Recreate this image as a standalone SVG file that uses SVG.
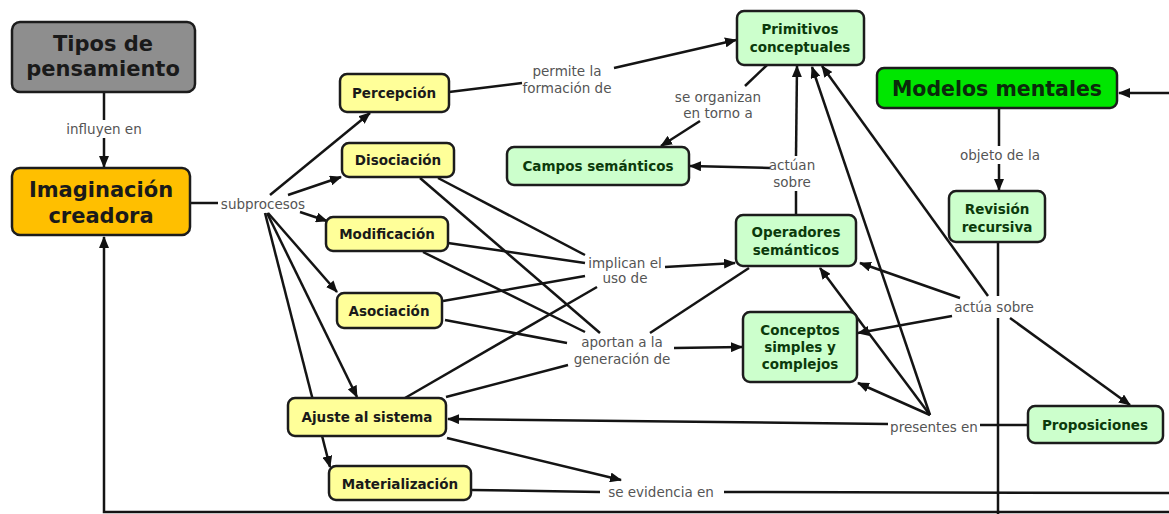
<svg xmlns="http://www.w3.org/2000/svg" width="1169" height="514" viewBox="0 0 1169 514">
<defs>
<marker id="ah" viewBox="0 0 12 10" refX="11" refY="5" markerWidth="12" markerHeight="10" markerUnits="userSpaceOnUse" orient="auto">
<path d="M0,0 L12,5 L0,10 Z" fill="#111"/>
</marker>
<style>
.n rect{stroke:#1c1c1c;stroke-width:2.5}
.y rect{fill:#ffff99}
.g rect{fill:#ccffcc}
.t{font-family:"DejaVu Sans",Verdana,sans-serif;font-weight:bold;font-size:13.5px;text-anchor:middle;dominant-baseline:central;fill:#1a1a1a}
.g .t{fill:#0b3a0b}
.big{font-size:21px}
.l{font-family:"DejaVu Sans",Verdana,sans-serif;font-size:13.5px;text-anchor:middle;dominant-baseline:central;fill:#555}
#connectors path{fill:none;stroke:#141414;stroke-width:2.5}
#connectors .a{marker-end:url(#ah)}
</style>
</defs>
<rect width="1169" height="514" fill="#fff"/>
<g id="connectors">
<path d="M104,93 L104,120"/>
<path class="a" d="M104,138 L104,167"/>
<path d="M190,203 L218,203"/>
<path class="a" d="M270,195 L370,113"/>
<path class="a" d="M288,195 L341,177"/>
<path class="a" d="M300,212 L327,221"/>
<path class="a" d="M268,213 L337,292"/>
<path class="a" d="M267,213 L357,397"/>
<path class="a" d="M265,213 L330,467"/>
<path d="M449,92 L522,83"/>
<path class="a" d="M614,68 L736,40"/>
<path d="M767,65 L745,86"/>
<path class="a" d="M700,121 L661,146"/>
<path d="M796,215 L796,191"/>
<path class="a" d="M770,168 L690,166"/>
<path class="a" d="M796,156 L797,66"/>
<path d="M999,108 L999,146"/>
<path class="a" d="M999,164 L999,190"/>
<path d="M998,242 L998,296"/>
<path d="M998,318 L998,514"/>
<path class="a" d="M960,298 L860,263"/>
<path class="a" d="M952,316 L858,333"/>
<path class="a" d="M988,296 L822,66"/>
<path class="a" d="M1010,318 L1130,405"/>
<path d="M1028,425 L980,425"/>
<path class="a" d="M888,424 L448,419"/>
<path class="a" d="M930,415 L858,383"/>
<path class="a" d="M930,415 L820,268"/>
<path class="a" d="M930,415 L812,67"/>
<path d="M438,178 L585,255"/>
<path d="M420,178 L600,333"/>
<path d="M448,243 L585,263"/>
<path d="M423,252 L585,332"/>
<path d="M443,301 L585,276"/>
<path d="M445,320 L567,343"/>
<path d="M405,398 L597,287"/>
<path d="M446,397 L568,365"/>
<path class="a" d="M665,267 L735,263"/>
<path class="a" d="M674,348 L742,347"/>
<path d="M749,268 L650,333"/>
<path d="M472,490 L600,492"/>
<path d="M724,492 L1169,493"/>
<path class="a" d="M1169,93 L1119,93"/>
<path class="a" d="M447,438 L621,480"/>
<path class="a" d="M1169,512 L104,512 L104,237"/>
</g>
<g id="lbl">
<text class="l" x="104" y="129">influyen en</text>
<text class="l" x="263" y="204">subprocesos</text>
<text class="l" x="567" y="71">permite la</text>
<text class="l" x="567" y="88">formación de</text>
<text class="l" x="718" y="97">se organizan</text>
<text class="l" x="718" y="113">en torno a</text>
<text class="l" x="792" y="165">actúan</text>
<text class="l" x="792" y="182">sobre</text>
<text class="l" x="1000" y="155">objeto de la</text>
<text class="l" x="625" y="263">implican el</text>
<text class="l" x="625" y="278">uso de</text>
<text class="l" x="622" y="342">aportan a la</text>
<text class="l" x="622" y="359">generación de</text>
<text class="l" x="994" y="307">actúa sobre</text>
<text class="l" x="934" y="427">presentes en</text>
<text class="l" x="661" y="492">se evidencia en</text>
</g>
<g id="tipos" class="n"><rect x="12" y="22" width="183" height="70" rx="8" fill="#8e8e8e"/><text class="t big" x="103" y="44">Tipos de</text><text class="t big" x="103" y="69">pensamiento</text></g>
<g id="imaginacion" class="n"><rect x="12" y="168" width="178" height="67" rx="8" fill="#ffbf00"/><text class="t big" x="101" y="190">Imaginación</text><text class="t big" x="101" y="216">creadora</text></g>
<g id="percepcion" class="n y"><rect x="340" y="74" width="109" height="38" rx="7"/><text class="t" x="394" y="93">Percepción</text></g>
<g id="disociacion" class="n y"><rect x="342" y="143" width="112" height="34" rx="7"/><text class="t" x="398" y="160">Disociación</text></g>
<g id="modificacion" class="n y"><rect x="326" y="217" width="122" height="34" rx="7"/><text class="t" x="387" y="234">Modificación</text></g>
<g id="asociacion" class="n y"><rect x="337" y="293" width="105" height="35" rx="7"/><text class="t" x="389" y="311">Asociación</text></g>
<g id="ajuste" class="n y"><rect x="288" y="398" width="158" height="38" rx="7"/><text class="t" x="367" y="417">Ajuste al sistema</text></g>
<g id="materializacion" class="n y"><rect x="329" y="466" width="142" height="34" rx="7"/><text class="t" x="400" y="484">Materialización</text></g>
<g id="primitivos" class="n g"><rect x="737" y="11" width="127" height="54" rx="7"/><text class="t" x="800" y="29">Primitivos</text><text class="t" x="800" y="47">conceptuales</text></g>
<g id="campos" class="n g"><rect x="507" y="147" width="182" height="38" rx="7"/><text class="t" x="598" y="166">Campos semánticos</text></g>
<g id="modelos" class="n"><rect x="877" y="68" width="240" height="40" rx="7" fill="#00e600"/><text class="t" x="997" y="89" style="font-size:20.5px;fill:#0b2a0b">Modelos mentales</text></g>
<g id="revision" class="n g"><rect x="949" y="191" width="96" height="51" rx="7"/><text class="t" x="997" y="209">Revisión</text><text class="t" x="997" y="227">recursiva</text></g>
<g id="operadores" class="n g"><rect x="736" y="215" width="120" height="51" rx="7"/><text class="t" x="796" y="232">Operadores</text><text class="t" x="796" y="250">semánticos</text></g>
<g id="conceptos" class="n g"><rect x="743" y="312" width="114" height="70" rx="7"/><text class="t" x="800" y="330">Conceptos</text><text class="t" x="800" y="347">simples y</text><text class="t" x="800" y="364">complejos</text></g>
<g id="proposiciones" class="n g"><rect x="1028" y="406" width="135" height="37" rx="7"/><text class="t" x="1095" y="425">Proposiciones</text></g>
</svg>
